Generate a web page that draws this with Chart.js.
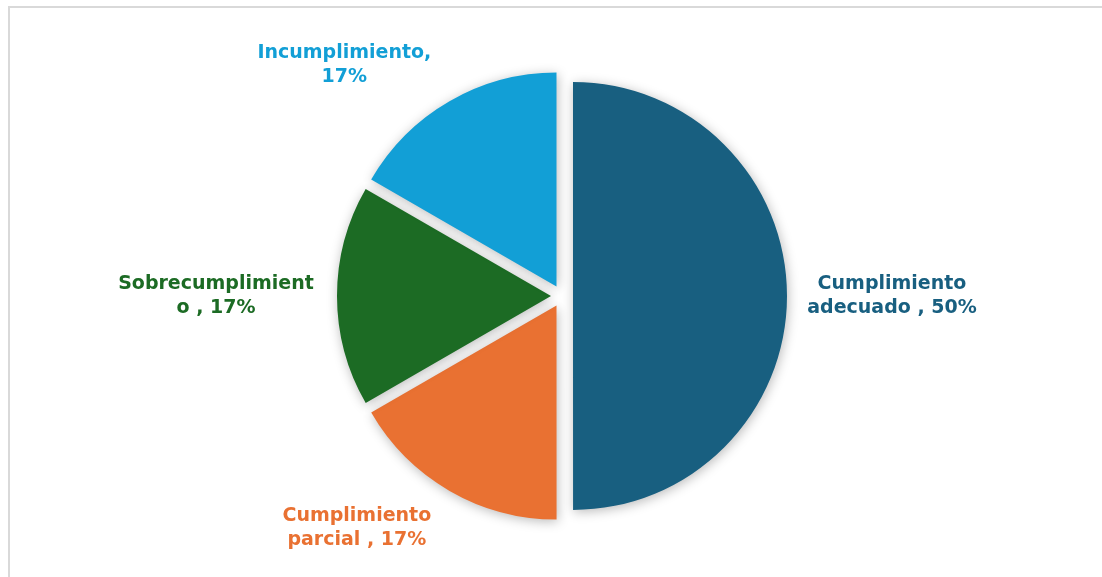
<!DOCTYPE html>
<html>
<head>
<meta charset="utf-8">
<script src="https://cdn.jsdelivr.net/npm/chart.js@4.4.1/dist/chart.umd.min.js"></script>
<style>
    html, body { margin: 0; padding: 0; background: #ffffff; }
    body { width: 1102px; height: 577px; position: relative; overflow: hidden; }
    .frame {
        position: absolute; left: 8px; top: 6px; width: 1200px; height: 700px;
        border-top: 2px solid #d9d9d9; border-left: 2px solid #d9d9d9;
    }
    #pie { position: absolute; left: 0; top: 0; }
</style>
</head>
<body>
<div class="frame"></div>
<canvas id="pie" width="1102" height="577"></canvas>
<script>
// Slices go clockwise from 12 o'clock.
const CATEGORIES = ['Cumplimiento adecuado', 'Cumplimiento parcial', 'Sobrecumplimiento', 'Incumplimiento'];
const VALUES     = [50, 16.67, 16.67, 16.67];
const COLORS     = ['#185f80', '#e97132', '#1c6b24', '#129fd6'];
// Label text as wrapped in the picture.
const LABEL_LINES = [
    ['Cumplimiento', 'adecuado , 50%'],
    ['Cumplimiento', 'parcial , 17%'],
    ['Sobrecumplimient', 'o , 17%'],
    ['Incumplimiento,', '17%'],
];
// Where each label sits: angle (deg, canvas) and distance as share of radius.
const LABEL_PLACE = [[0, 1.542], [131.5, 1.447], [180, 1.617], [-133.3, 1.483]];

const FONT = 'bold 19px "DejaVu Sans", sans-serif';
const EXPLODE = 11; // px each slice is pulled out along its mid angle

// Chart.js' own arc offset also grows the radius of a half-circle slice,
// so slices are pulled out here with a plain translate instead.
function explodeArcs(chart) {
    chart.getDatasetMeta(0).data.forEach(arc => {
        if (arc._exploded) return;
        const baseDraw = arc.draw.bind(arc);
        arc.draw = function (ctx) {
            const mid = (this.startAngle + this.endAngle) / 2;
            ctx.save();
            ctx.translate(Math.cos(mid) * EXPLODE, Math.sin(mid) * EXPLODE);
            baseDraw(ctx);
            ctx.restore();
        };
        arc._exploded = true;
    });
}

const shadowPlugin = {
    id: 'sliceShadow',
    beforeDatasetsDraw(chart) {
        explodeArcs(chart);
        const ctx = chart.ctx;
        ctx.save();
        ctx.shadowColor = 'rgba(0, 0, 0, 0.28)';
        ctx.shadowBlur = 12;
        ctx.shadowOffsetX = 1;
        ctx.shadowOffsetY = 2;
    },
    afterDatasetsDraw(chart) {
        chart.ctx.restore();
    },
};

const labelPlugin = {
    id: 'sliceLabels',
    afterDraw(chart) {
        const ctx = chart.ctx;
        const arcs = chart.getDatasetMeta(0).data;
        ctx.save();
        ctx.font = FONT;
        ctx.textAlign = 'center';
        ctx.textBaseline = 'middle';
        arcs.forEach((arc, i) => {
            const [deg, k] = LABEL_PLACE[i];
            const a = deg * Math.PI / 180;
            const x = arc.x + Math.cos(a) * arc.outerRadius * k;
            const y = arc.y + Math.sin(a) * arc.outerRadius * k;
            const lines = LABEL_LINES[i];
            const lh = 24;
            ctx.fillStyle = COLORS[i];
            lines.forEach((t, j) => {
                ctx.fillText(t, x, y + (j - (lines.length - 1) / 2) * lh);
            });
        });
        ctx.restore();
    },
};

new Chart(document.getElementById('pie'), {
    type: 'pie',
    data: {
        labels: CATEGORIES,
        datasets: [{
            data: VALUES,
            backgroundColor: COLORS,
            borderWidth: 0,
        }],
    },
    options: {
        responsive: false,
        animation: false,
        radius: 214,
        layout: { padding: { left: 22, right: 0, top: 15, bottom: 0 } },
        plugins: {
            legend: { display: false },
            tooltip: { enabled: false },
        },
    },
    plugins: [shadowPlugin, labelPlugin],
});
</script>
</body>
</html>
